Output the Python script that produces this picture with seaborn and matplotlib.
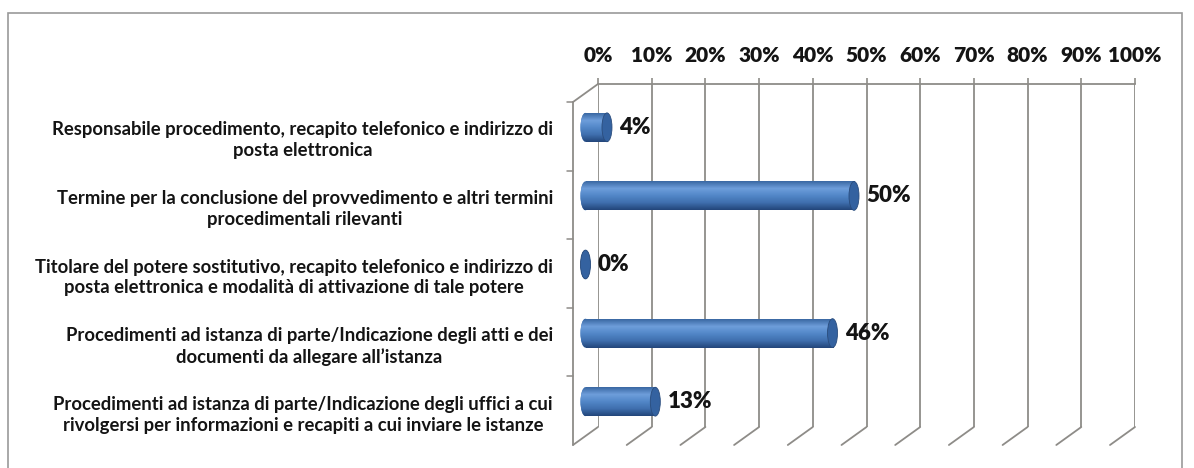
import numpy as np
import pandas as pd
import matplotlib
matplotlib.use("Agg")
import matplotlib.pyplot as plt
import matplotlib.transforms as mtrans
from matplotlib.patches import Ellipse, Rectangle
from matplotlib.colors import LinearSegmentedColormap
import seaborn as sns

categories = [
    "Responsabile procedimento, recapito telefonico e indirizzo di\nposta elettronica",
    "Termine per la conclusione del provvedimento e altri termini\nprocedimentali rilevanti",
    "Titolare del potere sostitutivo, recapito telefonico e indirizzo di\nposta elettronica e modalità di attivazione di tale potere",
    "Procedimenti ad istanza di parte/Indicazione degli atti e dei\ndocumenti da allegare all’istanza",
    "Procedimenti ad istanza di parte/Indicazione degli uffici a cui\nrivolgersi per informazioni e recapiti a cui inviare le istanze",
]
values = [4, 50, 0, 46, 13]
ticks = list(range(0, 101, 10))

sns.set_style("white")
plt.rcParams["font.family"] = ["Lato", "DejaVu Sans"]

W, H = 1194, 468
fig = plt.figure(figsize=(W / 100, H / 100), dpi=100)

def fx(x):
    return x / W

def fy(y):
    return 1 - y / H

grid_col = "#8E8C88"
txt_col = "#141414"
pxu = 5.37  # pixels per percent point

# back wall (0..100 on the back plane)
wall_l, wall_r, wall_t, wall_b = 598, 1135, 84, 427
axw = fig.add_axes([fx(wall_l), fy(wall_b), (wall_r - wall_l) / W, (wall_b - wall_t) / H])
axw.set_xlim(0, 100)
axw.set_ylim(0, 1)
axw.set_xticks(ticks)
axw.set_xticklabels([f"{t}%" for t in ticks])
axw.set_yticks([])
axw.xaxis.tick_top()
axw.tick_params(axis="x", top=True, bottom=False, labeltop=True, labelbottom=False,
                length=4, width=1.2, color=grid_col, pad=10, labelsize=15,
                labelcolor=txt_col)
for lab in axw.get_xticklabels():
    lab.set_fontweight("heavy")
axw.grid(axis="x", color=grid_col, lw=1.3)
for s in ["left", "right", "bottom"]:
    axw.spines[s].set_visible(False)
axw.spines["top"].set_color(grid_col)
axw.spines["top"].set_linewidth(1.3)

# depth offset between back wall and front edge
ddx = -25 / pxu
ddy = -18 / (wall_b - wall_t)
xt = axw.get_xaxis_transform()
for t in ticks:
    axw.plot([t, t + ddx], [0, ddy], color=grid_col, lw=1.3, transform=xt, clip_on=False)
axw.plot([0, ddx], [1, 1 + ddy], color=grid_col, lw=1.3, transform=xt, clip_on=False)
axw.plot([ddx, ddx], [ddy, 1 + ddy], color=grid_col, lw=1.3, transform=xt, clip_on=False)
for k in range(1, 6):
    yk = ddy + 0.2 * k
    axw.plot([ddx - 1.1, ddx], [yk, yk], color=grid_col, lw=1.1, transform=xt, clip_on=False)

# bars on the middle plane (0% at x=585.5 px)
mid0, mid_t, mid_b = 585.5, 93, 436
ax_l = 575
ax = fig.add_axes([fx(ax_l), fy(mid_b), (wall_r - wall_l + mid0 - ax_l) / W, (mid_b - mid_t) / H])
ax.patch.set_alpha(0)
df = pd.DataFrame({"categoria": categories, "valore": values})
sns.barplot(data=df, x="valore", y="categoria", orient="h", color="#4A7EBF",
            width=0.42, saturation=1, ax=ax, edgecolor="none")
xmin = -(mid0 - ax_l) / pxu

ax.set_xlabel("")
ax.set_ylabel("")
ax.set_xticks([])
sns.despine(ax=ax, left=True, bottom=True)

cmap = LinearSegmentedColormap.from_list(
    "cyl", ["#3A68A3", "#6E9EDB", "#5287C8", "#3F6FAE", "#23467A"])
grad = np.linspace(0, 1, 64).reshape(-1, 1)
cap_w = 10 / pxu

for p in list(ax.patches):
    x0, y0, w, h = p.get_x(), p.get_y(), p.get_width(), p.get_height()
    left = Ellipse((x0, y0 + h / 2), cap_w, h, facecolor="#4A7EBF", edgecolor="none", zorder=2)
    ax.add_patch(left)
    for clip in (left, p):
        im = ax.imshow(grad, cmap=cmap, aspect="auto", zorder=2.5,
                       extent=[x0 - cap_w, x0 + w, y0 + h, y0])
        im.set_clip_path(clip)
    p.set_zorder(2.4)
    right = Ellipse((x0 + w, y0 + h / 2), cap_w, h, facecolor="#3462A0",
                    edgecolor="#2A4C7C", lw=0.6, zorder=3)
    ax.add_patch(right)

ax.set_xlim(xmin, 100)
ax.set_ylim(4.5, -0.5)

ax.bar_label(ax.containers[0], labels=[f"{v}%" for v in values], padding=9,
             fontsize=16, fontweight="heavy", color=txt_col)

ax.tick_params(axis="y", length=0, pad=16, labelsize=13.3, labelcolor=txt_col)
shift = mtrans.ScaledTranslation(0, -9.5 / 100, fig.dpi_scale_trans)
for lab in ax.get_yticklabels():
    lab.set_multialignment("center")
    lab.set_fontweight("bold")
    lab.set_linespacing(1.28)
    lab.set_transform(lab.get_transform() + shift)

# outer chart frame
fig.add_artist(Rectangle((fx(8), fy(480)), (1182 - 8) / W, (480 - 13) / H,
                         transform=fig.transFigure, fill=False,
                         edgecolor="#9A9A9A", lw=1.2))

fig.savefig("out.png", dpi=100)
